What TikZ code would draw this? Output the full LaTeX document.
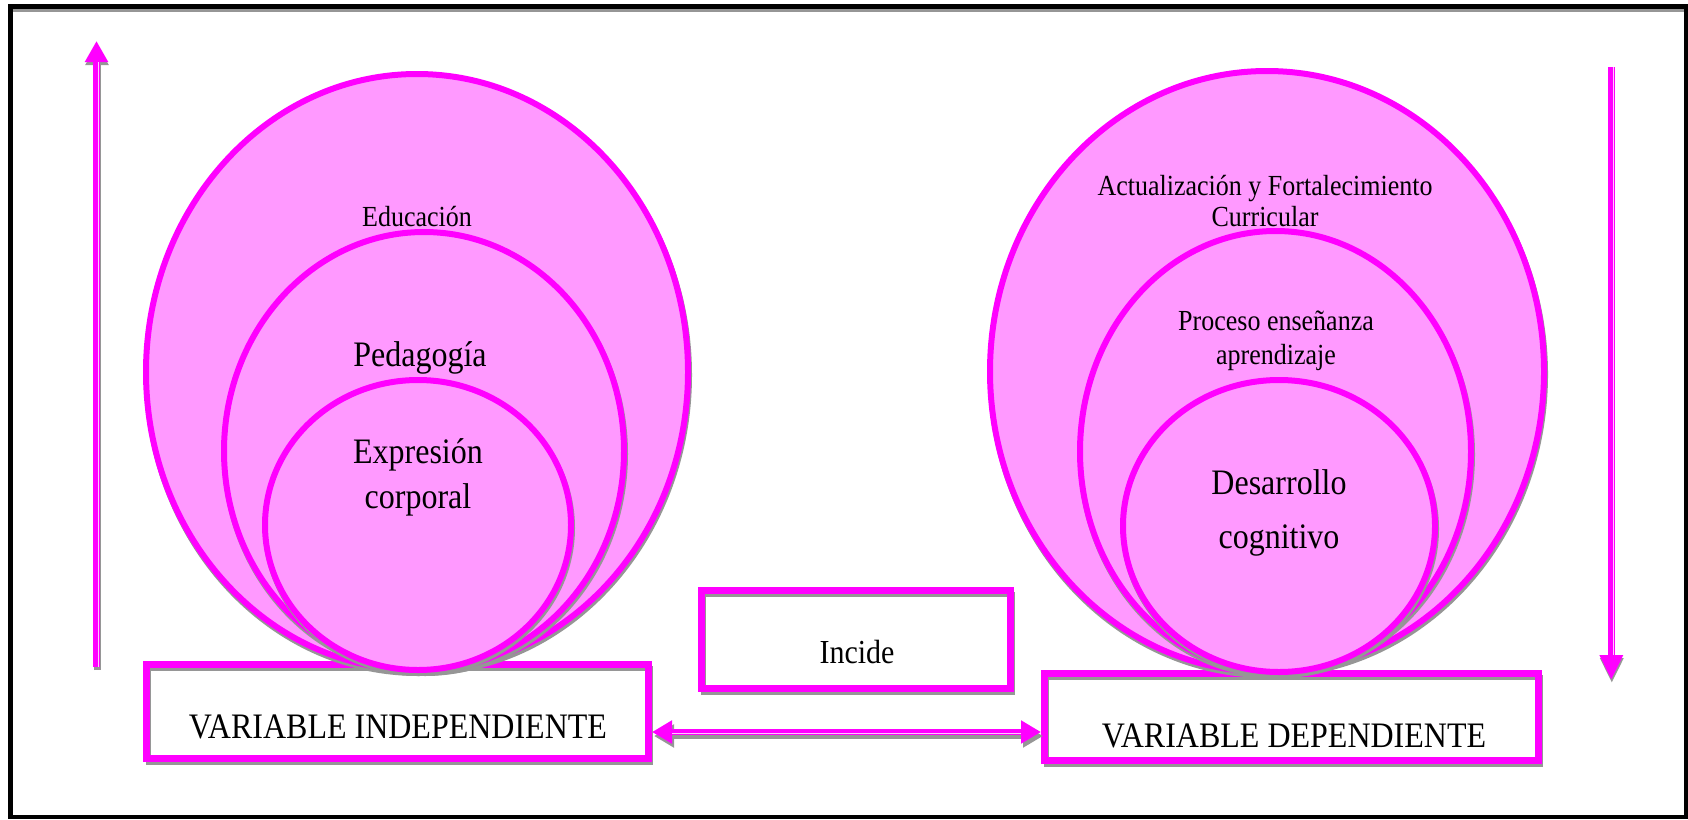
\documentclass[tikz,border=0pt]{standalone}
\usepackage{graphicx}
\usepackage{fontspec}
\setmainfont{Liberation Serif}
\usetikzlibrary{shapes.geometric,arrows.meta}
\definecolor{mag}{RGB}{255,0,255}
\definecolor{pinkf}{RGB}{255,153,255}
\definecolor{lightline}{RGB}{255,200,255}
\definecolor{shad}{RGB}{150,150,150}
\newcommand\fsz[1]{\fontsize{#1}{#1}\selectfont}
\newcommand\tall[1]{\scalebox{1}[1.12]{#1}}
\begin{document}
\begin{tikzpicture}[x=1pt,y=-1pt,
  ell/.style={ellipse, draw=mag, line width=6pt, fill=pinkf, inner sep=0pt,
    preaction={draw=shad, line width=6pt, transform canvas={shift={(1pt,-3pt)}}}},
  boxst/.style={rectangle, draw=mag, line width=7pt, inner sep=0pt,
    preaction={fill=white},
    preaction={draw=shad, line width=5pt, transform canvas={shift={(1.5pt,-3.5pt)}}}},
  txt/.style={anchor=base, inner sep=0pt, text=black},
  shaft/.style={draw=mag, line width=7pt},
  inline/.style={draw=lightline, line width=1.1pt},
  shadowline/.style={draw=shad, line width=7pt},
]
\useasboundingbox (0,0) rectangle (1688,819);
% frame
\draw[line width=4.7pt] (10.3,6.5) rectangle (1686,817);
\draw[shad, line width=3pt] (12.7,10.4) -- (1683.6,10.4);

% ---------- boxes ----------
\node[boxst, minimum width=502pt, minimum height=94pt] (vi) at (397.5,711.5) {};
\node[boxst, minimum width=309pt, minimum height=98pt] (inc) at (856,639.5) {};
\node[boxst, minimum width=494pt, minimum height=87pt] (vd) at (1291.5,717) {};

% ---------- left ellipses ----------
\node[ell, minimum width=542pt, minimum height=596pt] (eout) at (417,372) {};
\node[ell, minimum width=400pt, minimum height=438pt] (emid) at (424,451) {};
\node[ell, minimum width=306pt, minimum height=290pt] (ein) at (418,525) {};

% ---------- right ellipses ----------
\node[ell, minimum width=554pt, minimum height=601pt] (rout) at (1267,371.5) {};
\node[ell, minimum width=391pt, minimum height=441pt] (rmid) at (1275.5,451.5) {};
\node[ell, minimum width=312pt, minimum height=292pt] (rin) at (1279,526) {};

% ---------- texts ----------
\node[txt, font=\fsz{26}] (t1) at (417,226) {\tall{Educación}};
\node[txt, font=\fsz{32}] (t2) at (420,366) {\tall{Pedagogía}};
\node[txt, font=\fsz{32}] (t3) at (418,463) {\tall{Expresión}};
\node[txt, font=\fsz{32}] (t4) at (418,508) {\tall{corporal}};

\node[txt, font=\fsz{26}] (t5) at (1265,195) {\tall{Actualización y Fortalecimiento}};
\node[txt, font=\fsz{26}] (t6) at (1265,226) {\tall{Curricular}};
\node[txt, font=\fsz{26}] (t7) at (1276,330) {\tall{Proceso enseñanza}};
\node[txt, font=\fsz{26}] (t8) at (1276,364) {\tall{aprendizaje}};
\node[txt, font=\fsz{32}] (t9) at (1279,494) {\tall{Desarrollo}};
\node[txt, font=\fsz{32}] (t10) at (1279,548) {\tall{cognitivo}};

\node[txt, font=\fsz{32}] (t11) at (398,738) {\tall{VARIABLE INDEPENDIENTE}};
\node[txt, font=\fsz{30}] (t12) at (857,663) {\tall{Incide}};
\node[txt, font=\fsz{32}] (t13) at (1294,747) {\tall{VARIABLE DEPENDIENTE}};

% ---------- left vertical arrow (up) ----------
\coordinate (la0) at (96.5,667);
\coordinate (la1) at (96.5,41);
\coordinate (la0s) at (98.5,667);
\coordinate (la1s) at (98.5,62);
\draw[shadowline, -{Triangle[length=21pt,width=22pt]}] ([shift={(0.5pt,-3pt)}]la0) -- ([shift={(0.5pt,-3pt)}]la1);
\draw[shaft, -{Triangle[length=21pt,width=22pt]}] (la0) -- (la1);
\draw[inline] (la0s) -- (la1s);

% ---------- right vertical arrow (down) ----------
\coordinate (ra0) at (1611.3,67);
\coordinate (ra1) at (1611.3,680);
\coordinate (ra0s) at (1613.2,67);
\coordinate (ra1s) at (1613.2,655);
\draw[shadowline, -{Triangle[length=25pt,width=22pt]}] ([shift={(0.5pt,-3pt)}]ra0) -- ([shift={(0.5pt,-3pt)}]ra1);
\draw[shaft, -{Triangle[length=25pt,width=22pt]}] (ra0) -- (ra1);
\draw[inline] (ra0s) -- (ra1s);

% ---------- horizontal double arrow ----------
\coordinate (ha) at ([yshift=-20.5pt]vi.east);
\coordinate (hb) at ([yshift=-15pt]vd.west);
\draw[shadowline, line width=6pt, {Triangle[length=20pt,width=22pt]}-{Triangle[length=20pt,width=22pt]}] ([shift={(2pt,-4pt)}]ha) -- ([shift={(2pt,-4pt)}]hb);
\draw[shaft, line width=6pt, {Triangle[length=20pt,width=22pt]}-{Triangle[length=20pt,width=22pt]}] (ha) -- (hb);
\draw[inline] ([shift={(20pt,-1.6pt)}]ha) -- ([shift={(-20pt,-1.6pt)}]hb);
\end{tikzpicture}
\end{document}
